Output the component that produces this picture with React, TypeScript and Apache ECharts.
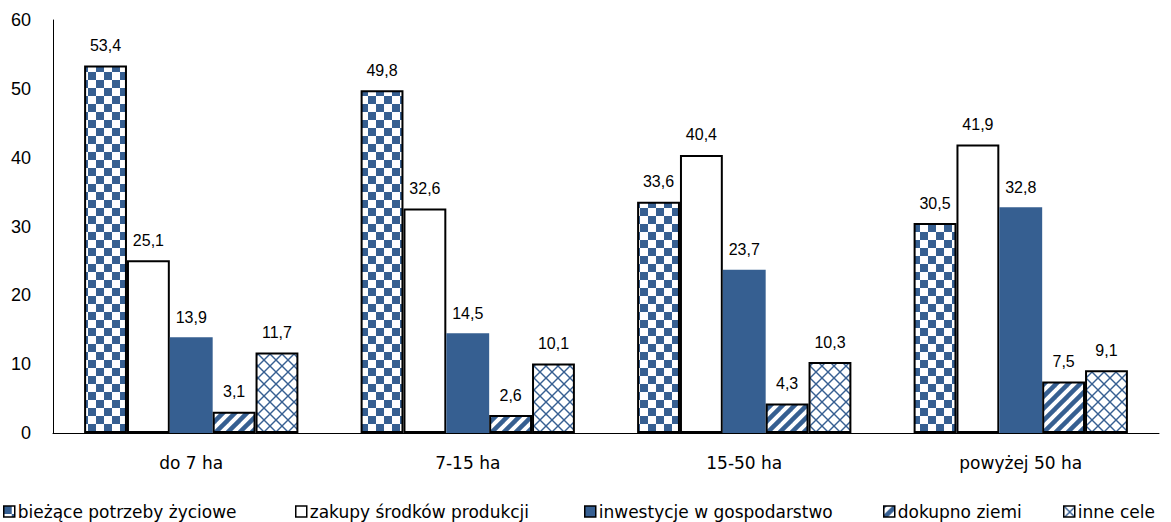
import React, { useEffect, useRef } from "react";
import * as echarts from "echarts";

const categories = ["do 7 ha", "7-15 ha", "15-50 ha", "powyżej 50 ha"];
const seriesNames = [
  "bieżące potrzeby życiowe",
  "zakupy środków produkcji",
  "inwestycje w gospodarstwo",
  "dokupno ziemi",
  "inne cele",
];
const biezace = [53.4, 49.8, 33.6, 30.5];
const zakupy = [25.1, 32.6, 40.4, 41.9];
const inwestycje = [13.9, 14.5, 23.7, 32.8];
const dokupno = [3.1, 2.6, 4.3, 7.5];
const inne = [11.7, 10.1, 10.3, 9.1];
const yTicks = [0, 10, 20, 30, 40, 50, 60];

const BLUE = "#365f91";
const legendLefts = [3, 295, 584, 883, 1063];

function makePattern(kind: string) {
  const size = kind === "checker" ? 16 : 12;
  const c = document.createElement("canvas");
  c.width = size;
  c.height = size;
  const ctx = c.getContext("2d")!;
  ctx.fillStyle = "#ffffff";
  ctx.fillRect(0, 0, size, size);
  ctx.fillStyle = BLUE;
  ctx.strokeStyle = BLUE;
  if (kind === "checker") {
    ctx.fillRect(0, 0, 8, 8);
    ctx.fillRect(8, 8, 8, 8);
  } else if (kind === "stripes") {
    ctx.lineWidth = 4.5;
    for (let k = -1; k <= 1; k++) {
      ctx.beginPath();
      ctx.moveTo(k * size - 2, size + 2);
      ctx.lineTo(k * size + size + 2, -2);
      ctx.stroke();
    }
  } else {
    ctx.lineWidth = 1.4;
    for (let k = -1; k <= 1; k++) {
      ctx.beginPath();
      ctx.moveTo(k * size - 1, -1);
      ctx.lineTo(k * size + size + 1, size + 1);
      ctx.stroke();
      ctx.beginPath();
      ctx.moveTo(k * size - 1, size + 1);
      ctx.lineTo(k * size + size + 1, -1);
      ctx.stroke();
    }
  }
  return {
    image: c.toDataURL(),
    repeat: "repeat",
    imageWidth: size,
    imageHeight: size,
  } as any;
}

export default function App() {
  const ref = useRef<HTMLDivElement>(null);
  useEffect(() => {
    if (!ref.current) return;
    const chart = echarts.init(ref.current, undefined, { renderer: "svg" });
    const data = [biezace, zakupy, inwestycje, dokupno, inne];
    const fills = [
      makePattern("checker"),
      "#ffffff",
      BLUE,
      makePattern("stripes"),
      makePattern("lattice"),
    ];
    const series = data.map((d, i) => ({
      name: seriesNames[i],
      type: "bar",
      data: d,
      barGap: "0%",
      barCategoryGap: "22.5%",
      itemStyle: {
        color: fills[i],
        borderColor: i === 2 ? BLUE : "#000000",
        borderWidth: i === 2 ? 0 : 2,
      },
      label: {
        show: true,
        position: "top",
        distance: 12,
        color: "#000",
        fontFamily: "Liberation Sans",
        fontSize: 16,
        formatter: (p: any) => String(p.value).replace(".", ","),
      },
    }));
    const legends = seriesNames.map((n, i) => ({
      left: legendLefts[i],
      top: 503,
      padding: 0,
      icon: "rect",
      itemWidth: 11,
      itemHeight: 11,
      itemStyle: { borderColor: "#000", borderWidth: 1.5 },
      textStyle: {
        fontFamily: "DejaVu Sans",
        fontSize: 17,
        color: "#000",
        padding: [0, 0, 0, -2],
      },
      data: [n],
    }));
    chart.setOption({
      animation: false,
      backgroundColor: "#fff",
      grid: { left: 53, right: 12, top: 20, bottom: 89 },
      legend: legends,
      xAxis: {
        type: "category",
        data: categories,
        axisLine: { lineStyle: { color: "#000", width: 1 } },
        axisTick: { show: false },
        axisLabel: {
          fontFamily: "DejaVu Sans",
          fontSize: 17,
          color: "#000",
          margin: 21,
        },
      },
      yAxis: {
        type: "value",
        min: yTicks[0],
        max: yTicks[yTicks.length - 1],
        interval: 10,
        axisLine: { show: true, lineStyle: { color: "#000", width: 1 } },
        axisTick: { show: false },
        splitLine: { show: false },
        axisLabel: {
          fontFamily: "Liberation Sans",
          fontSize: 18,
          color: "#000",
          margin: 22,
        },
      },
      series,
    });
    return () => chart.dispose();
  }, []);
  return (
    <div
      ref={ref}
      style={{ width: 1171, height: 522, position: "absolute", left: 0, top: 0 }}
    />
  );
}
